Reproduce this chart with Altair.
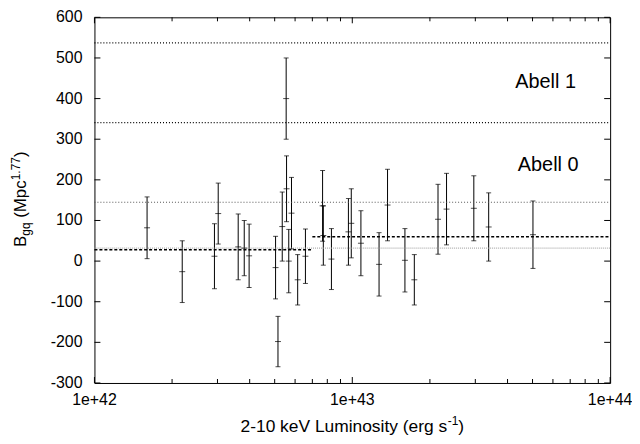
import altair as alt
import pandas as pd

FONT = "Liberation Sans"

# --- data (luminosity in units of 1e42 erg/s) ---
lum42 = [1.60, 2.19, 2.92, 3.02, 3.61, 3.81, 3.98, 5.04, 5.15, 5.35, 5.54, 5.56,
         5.67, 5.81, 6.14, 6.58, 7.67, 7.72, 8.30, 9.66, 9.91, 10.8, 12.7, 13.7,
         16.0, 17.4, 21.5, 23.2, 29.6, 33.8, 50.2]
bgq = [82, -26, 12, 117, 35, 32, 13, -16, -198, 85, 400, 178,
       0, 118, -46, 12, 136, 63, 5, 72, 93, 44, -8, 138,
       2, -46, 103, 128, 130, 84, 65]
err = [76, 76, 80, 75, 81, 68, 78, 77, 62, 85, 100, 81,
       78, 88, 62, 67, 87, 73, 75, 82, 85, 80, 78, 88,
       78, 62, 86, 88, 80, 84, 83]

abell_y = [537, 341, 145]          # Abell class levels (dotted)
mean_y = [32]                      # overall level (light dotted)
fit_y = [28, 60]                   # dashed fits
fit_x0 = [1e42, 7.0e42]
fit_x1 = [7.0e42, 1e44]
abell_labels = ["Abell 1", "Abell 0"]
abell_label_x = [5.62e43, 5.75e43]
abell_label_y = [440, 236]

y_ticks = [-300, -200, -100, 0, 100, 200, 300, 400, 500, 600]
y_tick_labels = ["-300", "-200", "-100", "0", "100", "200", "300", "400", "500", "600"]
x_major = [1e42, 1e43, 1e44]
x_major_labels = ["1e+42", "1e+43", "1e+44"]
x_minor = [m * 10 ** e for e in (42, 43) for m in range(2, 10)]

W, H = 519, 368

pts = pd.DataFrame({"L": [v * 1e42 for v in lum42], "B": bgq, "e": err})
pts["lo"] = pts["B"] - pts["e"]
pts["hi"] = pts["B"] + pts["e"]

xs = alt.Scale(type="log", domain=[1e42, 1e44], nice=False)
ys = alt.Scale(domain=[-300, 600], nice=False, zero=False)


def X(f):
    return alt.X(f, scale=xs, axis=None)


def Y(f):
    return alt.Y(f, scale=ys, axis=None)


base = alt.Chart(pts)
bars = base.mark_rule(color="black", strokeWidth=1).encode(
    x=X("L:Q"), y=Y("lo:Q"), y2="hi:Q")
cap_lo = base.mark_tick(orient="horizontal", size=5, thickness=1, color="black").encode(
    x=X("L:Q"), y=Y("lo:Q"))
cap_hi = base.mark_tick(orient="horizontal", size=5, thickness=1, color="black").encode(
    x=X("L:Q"), y=Y("hi:Q"))
center = base.mark_tick(orient="horizontal", size=6, thickness=1, color="black").encode(
    x=X("L:Q"), y=Y("B:Q"))


def hlines(vals, color, dash, width):
    df = pd.DataFrame({"y": vals, "x0": [1e42] * len(vals), "x1": [1e44] * len(vals)})
    return alt.Chart(df).mark_rule(color=color, strokeDash=dash, strokeWidth=width).encode(
        x=X("x0:Q"), x2="x1:Q", y=Y("y:Q"))


dot_dark = hlines(abell_y[:2], "#000000", [1, 2], 1.2)
dot_mid = hlines(abell_y[2:], "#555555", [1, 2], 1.1)
dot_light = hlines(mean_y, "#999999", [1, 1], 1)

fits = alt.Chart(pd.DataFrame({"y": fit_y, "x0": fit_x0, "x1": fit_x1})).mark_rule(
    color="black", strokeDash=[3, 2], strokeWidth=1.5).encode(
    x=X("x0:Q"), x2="x1:Q", y=Y("y:Q"))

abell_txt = alt.Chart(pd.DataFrame({"x": abell_label_x, "y": abell_label_y,
                                    "t": abell_labels})).mark_text(
    font=FONT, fontSize=20, align="center", baseline="middle", color="black").encode(
    x=X("x:Q"), y=Y("y:Q"), text="t:N")

# inward ticks on all four sides
ydf = pd.DataFrame({"v": y_ticks, "t": y_tick_labels})
ytick_l = alt.Chart(ydf).mark_rule(color="black").encode(
    y=Y("v:Q"), x=alt.value(0), x2=alt.value(6))
ytick_r = alt.Chart(ydf).mark_rule(color="black").encode(
    y=Y("v:Q"), x=alt.value(W - 6), x2=alt.value(W))
xmaj = pd.DataFrame({"v": x_major, "t": x_major_labels})
xmin = pd.DataFrame({"v": x_minor})
xt1 = alt.Chart(xmaj).mark_rule(color="black").encode(
    x=X("v:Q"), y=alt.value(H), y2=alt.value(H - 6))
xt2 = alt.Chart(xmaj).mark_rule(color="black").encode(
    x=X("v:Q"), y=alt.value(0), y2=alt.value(6))
xt3 = alt.Chart(xmin).mark_rule(color="black").encode(
    x=X("v:Q"), y=alt.value(H), y2=alt.value(H - 4))
xt4 = alt.Chart(xmin).mark_rule(color="black").encode(
    x=X("v:Q"), y=alt.value(0), y2=alt.value(4))

# tick labels (placed through the scales)
ylab = alt.Chart(ydf).mark_text(font=FONT, fontSize=16, align="right",
                                baseline="middle", color="black").encode(
    y=Y("v:Q"), x=alt.value(-12), text="t:N")
xlab = alt.Chart(xmaj).mark_text(font=FONT, fontSize=16, align="center",
                                 baseline="middle", color="black").encode(
    x=X("v:Q"), y=alt.value(H + 17), text="t:N")


def label(text, x, y, size, angle=0, align="left"):
    return alt.Chart(pd.DataFrame({"t": [text]})).mark_text(
        font=FONT, fontSize=size, angle=angle, align=align, baseline="alphabetic",
        color="black").encode(x=alt.value(x), y=alt.value(y), text="t:N")


# x-axis title with superscript
xt_main = label("2-10 keV Luminosity (erg s", 355.0, 417, 17.5, align="right")
xt_sup = label("-1", 355.5, 410, 12)
xt_end = label(")", 366.2, 417, 17.5)

# y-axis title with subscript / superscript (rotated)
yt_b = label("B", -69, 231.1, 17, angle=270)
yt_sub = label("gq", -65, 219.8, 12, angle=270)
yt_mpc = label("(Mpc", -69, 201.8, 17, angle=270)
yt_sup = label("1.77", -75, 164.0, 12, angle=270)
yt_end = label(")", -69, 140.6, 17, angle=270)

chart = alt.layer(
    bars, dot_dark, dot_mid, dot_light, fits, cap_lo, cap_hi, center, abell_txt,
    ytick_l, ytick_r, xt1, xt2, xt3, xt4, ylab, xlab,
    xt_main, xt_sup, xt_end, yt_b, yt_sub, yt_mpc, yt_sup, yt_end,
).properties(
    width=W, height=H,
    autosize=alt.AutoSizeParams(type="none"),
    padding={"left": 87, "top": 8, "right": 22, "bottom": 58},
).configure_view(stroke="black", strokeWidth=1)

chart.save("out.html", embed_options={"renderer": "svg", "actions": False})
